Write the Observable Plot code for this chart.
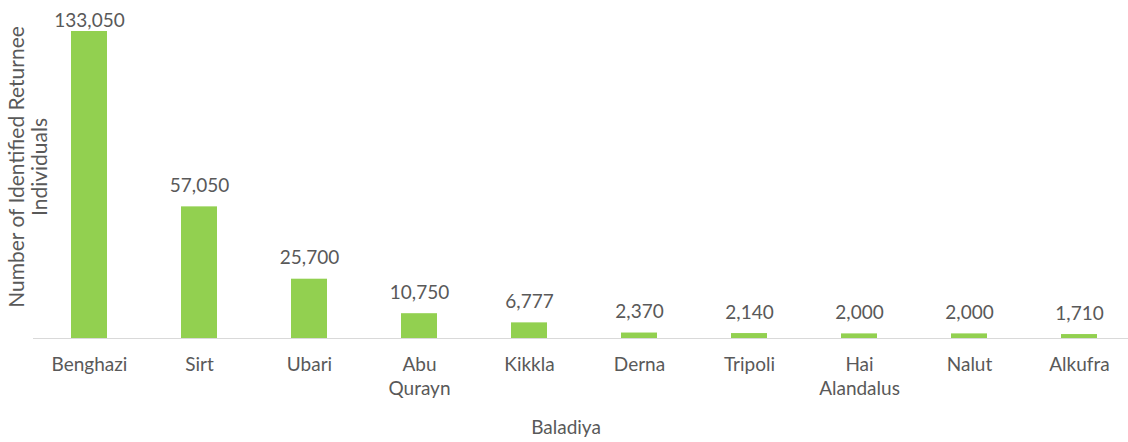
<!DOCTYPE html>
<html>
<head>
<meta charset="utf-8">
<script src="https://cdn.jsdelivr.net/npm/d3@7"></script>
<script src="https://cdn.jsdelivr.net/npm/@observablehq/plot@0.6"></script>
<style>
  html, body { margin: 0; padding: 0; background: #fff; }
</style>
</head>
<body>
<div id="chart"></div>
<script>
const categories = ["Benghazi", "Sirt", "Ubari", "Abu\nQurayn", "Kikkla", "Derna", "Tripoli", "Hai\nAlandalus", "Nalut", "Alkufra"];
const values = [133050, 57050, 25700, 10750, 6777, 2370, 2140, 2000, 2000, 1710];
const yTitle = "Number of Identified Returnee\nIndividuals";
const xTitle = "Baladiya";

const data = categories.map((c, i) => ({category: c, value: values[i], first: i === 0}));
const fmt = d3.format(",");
const textColor = "#595959";

const chart = Plot.plot({
  width: 1128,
  height: 442,
  marginTop: 31,
  marginBottom: 104,
  marginLeft: 33,
  marginRight: 0,
  style: {fontFamily: "Lato, sans-serif", fontSize: "19px", color: textColor, background: "#fff"},
  x: {domain: categories, paddingInner: 0.67, paddingOuter: 0.3, align: 0.55, label: null},
  y: {domain: [0, 133050], axis: null},
  marks: [
    Plot.barY(data, {x: "category", y: "value", fill: "#92d050"}),
    Plot.ruleY([0], {stroke: "#d9d9d9", strokeWidth: 1.2}),
    Plot.text(data.filter(d => !d.first), {x: "category", y: "value", text: d => fmt(d.value), dy: -21, fill: textColor, fontSize: 19}),
    Plot.text(data.filter(d => d.first), {x: "category", y: "value", text: d => fmt(d.value), dy: -11, fill: textColor, fontSize: 19}),
    Plot.axisX({tickSize: 0, tickPadding: 16, lineHeight: 1.25, fill: textColor, fontSize: 19, label: null}),
    Plot.text([yTitle], {frameAnchor: "left", textAnchor: "middle", rotate: -90, dx: -5, dy: -18, lineHeight: 1.1, fill: textColor, fontSize: 21}),
    Plot.text([xTitle], {frameAnchor: "bottom", dy: 95, dx: -15, fill: textColor, fontSize: 19})
  ]
});
document.getElementById("chart").appendChild(chart);
</script>
</body>
</html>
